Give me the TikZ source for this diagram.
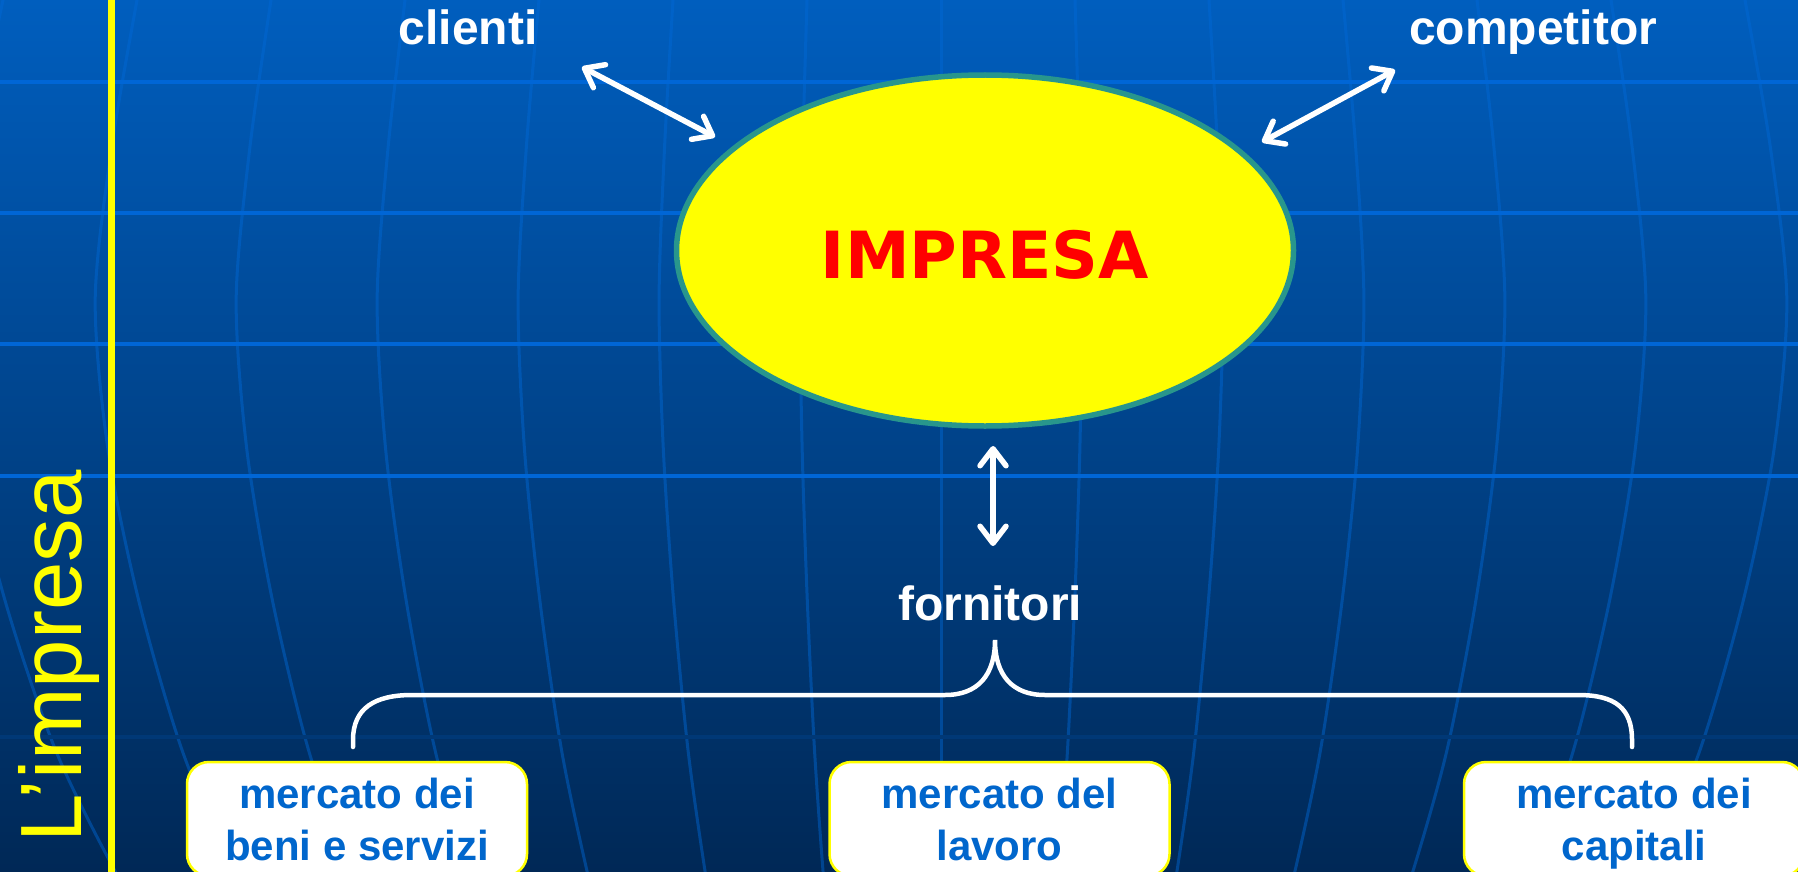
\documentclass[tikz,border=0pt]{standalone}
\usepackage{fontspec}
\setmainfont{Liberation Sans}
\newfontfamily\verdfont{DejaVu Sans}
\usetikzlibrary{arrows.meta,shapes.geometric}
\definecolor{bgtop}{RGB}{0,94,190}
\definecolor{bgmid}{RGB}{0,70,145}
\definecolor{bgbot}{RGB}{0,40,86}
\definecolor{gridc}{RGB}{0,102,214}
\definecolor{gridd}{RGB}{0,56,118}
\definecolor{merc}{RGB}{0,105,215}
\definecolor{ellborder}{RGB}{40,150,140}
\definecolor{boxblue}{RGB}{0,102,204}
\definecolor{puryellow}{RGB}{255,255,0}
\begin{document}
\begin{tikzpicture}[x=1pt,y=-1pt,
  lbl/.style={text=white,font=\bfseries\fontsize{48}{56}\selectfont,inner sep=0,anchor=base},
  mkt/.style={draw=puryellow,line width=2.5pt,fill=white,rounded corners=22pt,minimum width=340pt,minimum height=114pt,inner sep=0},
  mkttext/.style={text=boxblue,font=\bfseries\fontsize{42}{50}\selectfont,inner sep=0,anchor=base},
  dbl/.style={white,line width=5.5pt,{Straight Barb[length=17pt,width=26pt,round]}-{Straight Barb[length=17pt,width=26pt,round]}},
  meridian/.style={merc,opacity=0.45,line width=3pt},
  hline/.style={gridc,line width=4.5pt}]
\useasboundingbox (0,0) rectangle (1798,872);
\clip (0,0) rectangle (1798,872);
\shade[top color=bgtop, middle color=bgmid, bottom color=bgbot] (0,0) rectangle (1798,872);
% globe meridians
\foreach \k in {-8,...,8}{
  \pgfmathsetmacro{\d}{134*\k}
  \draw[meridian] plot[smooth] coordinates {(941+\d*0.985,-60) (941+\d,0) (941+\d*1.032,150) (941+\d*1.052,300) (941+\d*1.036,450) (941+\d*0.998,600) (941+\d*0.944,750) (941+\d*0.88,872) (941+\d*0.835,940)};
}
% horizontal grid
\foreach \yy in {82,213,344,476}{\draw[hline] (0,\yy) -- (1798,\yy);}
\draw[gridd,line width=4pt] (0,737) -- (1798,737);
% left yellow rule and title
\draw[puryellow,line width=7pt] (111.5,0) -- (111.5,872);
\node[rotate=90,anchor=base west,inner sep=0,text=puryellow,font=\fontsize{87}{100}\selectfont] (title) at (81,843) {L’impresa};
% central ellipse
\node[ellipse,draw=ellborder,line width=5.5pt,fill=puryellow,minimum width=617pt,minimum height=351pt,inner sep=0,
      text=red,font=\verdfont\bfseries\fontsize{65}{70}\selectfont,text height=56pt,text depth=0pt] (impresa) at (985,250.5) {IMPRESA};
% labels
\node[lbl] (clienti) at (468,45) {clienti};
\node[lbl] (competitor) at (1533,45) {competitor};
\node[lbl] (fornitori) at (990,620) {fornitori};
% arrows
\coordinate (cl1) at (582,67); \coordinate (cl2) at (715,137);
\coordinate (co1) at (1395,70); \coordinate (co2) at (1262,142);
\coordinate (fo1) at (993,446); \coordinate (fo2) at (993,546);
\draw[dbl] (cl1) -- (cl2);
\draw[dbl] (co1) -- (co2);
\draw[dbl] (fo1) -- (fo2);
% brace
\draw[white,line width=4.5pt,line cap=round] (353,747) -- (353,740) .. controls (353,708) and (375,695) .. (412,695) -- (945,695) .. controls (978,695) and (995,675) .. (995,640) .. controls (995,675) and (1012,695) .. (1045,695) -- (1578,695) .. controls (1615,695) and (1632,708) .. (1632,740) -- (1632,747);
% market boxes
\node[mkt] (beni) at (357,819) {};
\node[mkttext] (beni1) at (357,808) {mercato dei};
\node[mkttext] (beni2) at (357,860) {beni e servizi};
\node[mkt] (lavoro) at (999.5,819) {};
\node[mkttext] (lavoro1) at (999.5,808) {mercato del};
\node[mkttext] (lavoro2) at (999.5,860) {lavoro};
\node[mkt] (capitali) at (1634,819) {};
\node[mkttext] (capitali1) at (1634,808) {mercato dei};
\node[mkttext] (capitali2) at (1634,860) {capitali};
\end{tikzpicture}
\end{document}
